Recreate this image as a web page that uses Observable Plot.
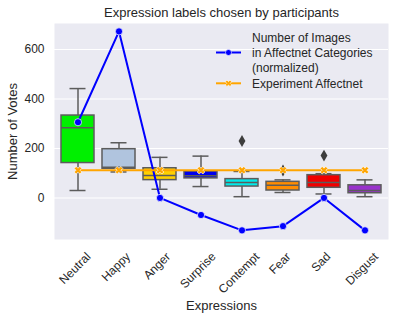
<!DOCTYPE html>
<html>
<head>
<meta charset="utf-8">
<script src="https://cdn.jsdelivr.net/npm/d3@7"></script>
<script src="https://cdn.jsdelivr.net/npm/@observablehq/plot@0.6"></script>
<style>
  html, body { margin: 0; padding: 0; background: white; }
</style>
</head>
<body>
<div id="chart"></div>
<script>
const categories = ["Neutral", "Happy", "Anger", "Surprise", "Contempt", "Fear", "Sad", "Disgust"];
const boxColors = ["#00f000", "#b0c4de", "#ffd000", "#0000f0", "#00eaea", "#ff8c00", "#f00000", "#9932cc"];
const whiskerLow  = [30, 105, 35, 46, 5, 22, 16, 5];
const q1          = [141, 118, 72, 79, 46, 30, 41, 19];
const median      = [284, 124, 91, 90, 62, 51, 62, 30];
const q3          = [333, 197, 120, 107, 76, 65, 92, 51];
const whiskerHigh = [442, 223, 164, 169, 107, 73, 98, 73];
const outlierCats   = ["Contempt", "Fear", "Sad"];
const outlierValues = [230, 111, 171];
const affectnetNormalized = [306, 673, 0, -69, -131, -114, 0, -131];
const experimentAffectnet = [112, 112, 112, 112, 112, 112, 112, 112];
const yTicks = [0, 200, 400, 600];

const boxes = categories.map((c, i) => ({
  cat: c, color: boxColors[i], lo: whiskerLow[i], q1: q1[i], med: median[i],
  q3: q3[i], hi: whiskerHigh[i], blue: affectnetNormalized[i], orange: experimentAffectnet[i]
}));
const outliers = outlierCats.map((c, i) => ({cat: c, v: outlierValues[i]}));

const font = "'Liberation Sans', Arial, sans-serif";
const textColor = "#262626";
const gray = "#5c5c5c";

// filled X marker
const filledX = {
  draw(ctx, size) {
    const r = Math.sqrt(size / Math.PI) * 1.1, t = r * 0.36;
    const pts = [[t,r],[t,t],[r,t],[r,-t],[t,-t],[t,-r],[-t,-r],[-t,-t],[-r,-t],[-r,t],[-t,t],[-t,r]]
      .map(([x, y]) => [(x - y) / Math.SQRT2, (x + y) / Math.SQRT2]);
    ctx.moveTo(pts[0][0], pts[0][1]);
    for (let k = 1; k < pts.length; k++) ctx.lineTo(pts[k][0], pts[k][1]);
    ctx.closePath();
  }
};

const tickFont = 12;
const cv = document.createElement("canvas").getContext("2d");
cv.font = tickFont + "px 'Liberation Sans', Arial";
const tickMarks = categories.map(c => {
  const w = cv.measureText(c).width;
  const hh = (w + tickFont * 0.75) * Math.SQRT1_2 / 2;
  return Plot.text([c], {x: d => d, frameAnchor: "bottom", dy: 12 + hh, dx: -3,
    rotate: -45, textAnchor: "middle", lineAnchor: "middle", fontSize: tickFont, fill: textColor});
});

const chart = Plot.plot({
  width: 394, height: 318,
  marginLeft: 54, marginRight: 6, marginTop: 23, marginBottom: 79,
  style: {fontFamily: font, background: "white", overflow: "visible"},
  x: {domain: categories, padding: 0, axis: null},
  y: {domain: [-168, 705], axis: null},
  color: {type: "identity"},
  marks: [
    Plot.frame({fill: "#eaeaf2", stroke: null}),
    Plot.gridY(yTicks, {stroke: "white", strokeOpacity: 1, strokeWidth: 1.1}),
    Plot.axisY(yTicks, {tickSize: 0, tickPadding: 10, fontSize: 12, label: null, color: textColor}),
    // whiskers
    Plot.ruleX(boxes, {x: "cat", y1: "q3", y2: "hi", stroke: gray, strokeWidth: 1.5}),
    Plot.ruleX(boxes, {x: "cat", y1: "lo", y2: "q1", stroke: gray, strokeWidth: 1.5}),
    Plot.tickY(boxes, {x: "cat", y: "hi", stroke: gray, strokeWidth: 1.5, insetLeft: 12.5, insetRight: 12.5}),
    Plot.tickY(boxes, {x: "cat", y: "lo", stroke: gray, strokeWidth: 1.5, insetLeft: 12.5, insetRight: 12.5}),
    // boxes
    Plot.rectY(boxes, {x: "cat", y1: "q1", y2: "q3", fill: "color", stroke: gray, strokeWidth: 1.5, insetLeft: 4, insetRight: 4}),
    Plot.tickY(boxes, {x: "cat", y: "med", stroke: gray, strokeWidth: 1.5, insetLeft: 4, insetRight: 4}),
    Plot.dot(outliers, {x: "cat", y: "v", symbol: "diamond", r: 3.6, fill: "#3d3d3d", stroke: null}),
    // lines
    Plot.line(boxes, {x: "cat", y: "blue", stroke: "#0000ff", strokeWidth: 2}),
    Plot.dot(boxes, {x: "cat", y: "blue", r: 3.6, fill: "#0000ff", stroke: "white", strokeWidth: 0.7}),
    Plot.line(boxes, {x: "cat", y: "orange", stroke: "#ffa500", strokeWidth: 2}),
    Plot.dot(boxes, {x: "cat", y: "orange", r: 3.6, symbol: filledX, fill: "#ffa500", stroke: "white", strokeWidth: 0.7}),
    // ticks x
    ...tickMarks,
    // titles
    Plot.text(["Expression labels chosen by participants"], {frameAnchor: "top", dy: -11, lineAnchor: "middle", fontSize: 13, fill: textColor}),
    Plot.text(["Number of Votes"], {frameAnchor: "left", dx: -42, rotate: -90, textAnchor: "middle", lineAnchor: "middle", fontSize: 13, fill: textColor}),
    Plot.text(["Expressions"], {frameAnchor: "bottom", dy: 66, lineAnchor: "middle", fontSize: 13, fill: textColor})
  ]
});

// legend
const svg = d3.select(chart);
const lg = svg.append("g").attr("font-family", font).attr("font-size", 12).attr("fill", textColor).attr("text-anchor", "start");
lg.append("line").attr("x1", 216).attr("x2", 241).attr("y1", 52.5).attr("y2", 52.5).attr("stroke", "#0000ff").attr("stroke-width", 2);
lg.append("circle").attr("cx", 228.5).attr("cy", 52.5).attr("r", 3).attr("fill", "#0000ff").attr("stroke", "white").attr("stroke-width", 0.6);
[["Number of Images", 37.3], ["in Affectnet Categories", 52.7], ["(normalized)", 67.3]].forEach(([t, y]) =>
  lg.append("text").attr("x", 252).attr("y", y).attr("dy", "0.35em").text(t));
lg.append("line").attr("x1", 216).attr("x2", 241).attr("y1", 83.3).attr("y2", 83.3).attr("stroke", "#ffa500").attr("stroke-width", 2);
lg.append("path").attr("transform", "translate(228.5,83.3)").attr("d", d3.symbol(filledX, 28)()).attr("fill", "#ffa500").attr("stroke", "white").attr("stroke-width", 0.6);
lg.append("text").attr("x", 252).attr("y", 83.3).attr("dy", "0.35em").text("Experiment Affectnet");

document.getElementById("chart").appendChild(chart);
</script>
</body>
</html>
